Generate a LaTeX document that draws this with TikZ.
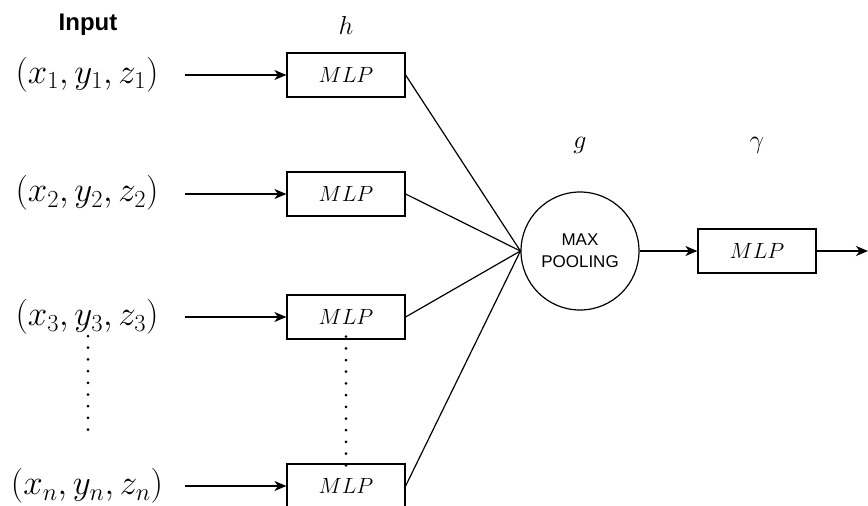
\RequirePackage{fix-cm}
\documentclass[tikz,border=0pt]{standalone}
\usepackage{fontspec}
\newfontfamily\labelsans{Liberation Sans}
\usetikzlibrary{arrows.meta}

\tikzset{
  mlpbox/.style={draw, line width=1.2pt, minimum width=118pt, minimum height=44pt,
                 inner sep=0pt, font=\fontsize{22}{26}\selectfont},
  poolnode/.style={draw, circle, line width=1.2pt, minimum size=118pt, inner sep=0pt,
                   align=center, font=\labelsans\fontsize{17}{22}\selectfont},
  inlabel/.style={inner sep=0pt, font=\fontsize{35}{42}\selectfont},
  headlabel/.style={inner sep=0pt, font=\fontsize{26}{30}\selectfont},
  flow/.style={line width=1.2pt, -{Stealth[length=12pt,width=10pt,inset=3.5pt]}},
  link/.style={line width=1.2pt},
  dotline/.style={line width=3pt, line cap=round, dash pattern=on 0pt off 11.7pt}
}

\begin{document}
\begin{tikzpicture}[x=1pt, y=-1pt]
  \useasboundingbox (0,0) rectangle (868,506);

  % column headings
  \node[inner sep=0pt, font=\labelsans\bfseries\fontsize{24}{28}\selectfont] (inhead) at (88,25) {Input};
  \node[headlabel] (hhead) at (346,25) {$h$};
  \node[headlabel] (ghead) at (580,145) {$g$};
  \node[headlabel] (gammahead) at (757,145) {$\gamma$};

  % input points
  \node[inlabel] (p1) at (87,75)  {$(x_1,y_1,z_1)$};
  \node[inlabel] (p2) at (87,193) {$(x_2,y_2,z_2)$};
  \node[inlabel] (p3) at (87,317) {$(x_3,y_3,z_3)$};
  \node[inlabel] (pn) at (87,486) {$(x_n,y_n,z_n)$};

  % shared per-point MLPs
  \node[mlpbox] (m1) at (346,75)  {$MLP$};
  \node[mlpbox] (m2) at (346,194) {$MLP$};
  \node[mlpbox] (m3) at (346,317) {$MLP$};
  \node[mlpbox] (mn) at (346,486) {$MLP$};

  % symmetric aggregation and final MLP
  \node[poolnode] (pool) at (580,251) {MAX\\POOLING};
  \node[mlpbox] (mout) at (757,251) {$MLP$};
  \coordinate (outend) at (868,251);

  % input arrows
  \coordinate (a1) at (185,75);
  \coordinate (a2) at (185,194);
  \coordinate (a3) at (185,317);
  \coordinate (an) at (185,486);
  \draw[flow] (a1) -- (m1.west);
  \draw[flow] (a2) -- (m2.west);
  \draw[flow] (a3) -- (m3.west);
  \draw[flow] (an) -- (mn.west);

  % ellipsis between third and last point
  \coordinate (d1) at (88,336);
  \coordinate (d2) at (88,441);
  \draw[dotline] (d1) -- (d2);
  \draw[dotline] ([yshift=3pt]m3.south) -- ([yshift=-2pt]mn.north);

  % features into max pooling
  \draw[link] (m1.east) -- (pool.west);
  \draw[link] (m2.east) -- (pool.west);
  \draw[link] (m3.east) -- (pool.west);
  \draw[link] (mn.east) -- (pool.west);

  % global feature through final MLP
  \draw[flow] (pool.east) -- (mout.west);
  \draw[flow] (mout.east) -- (outend);
\end{tikzpicture}
\end{document}
